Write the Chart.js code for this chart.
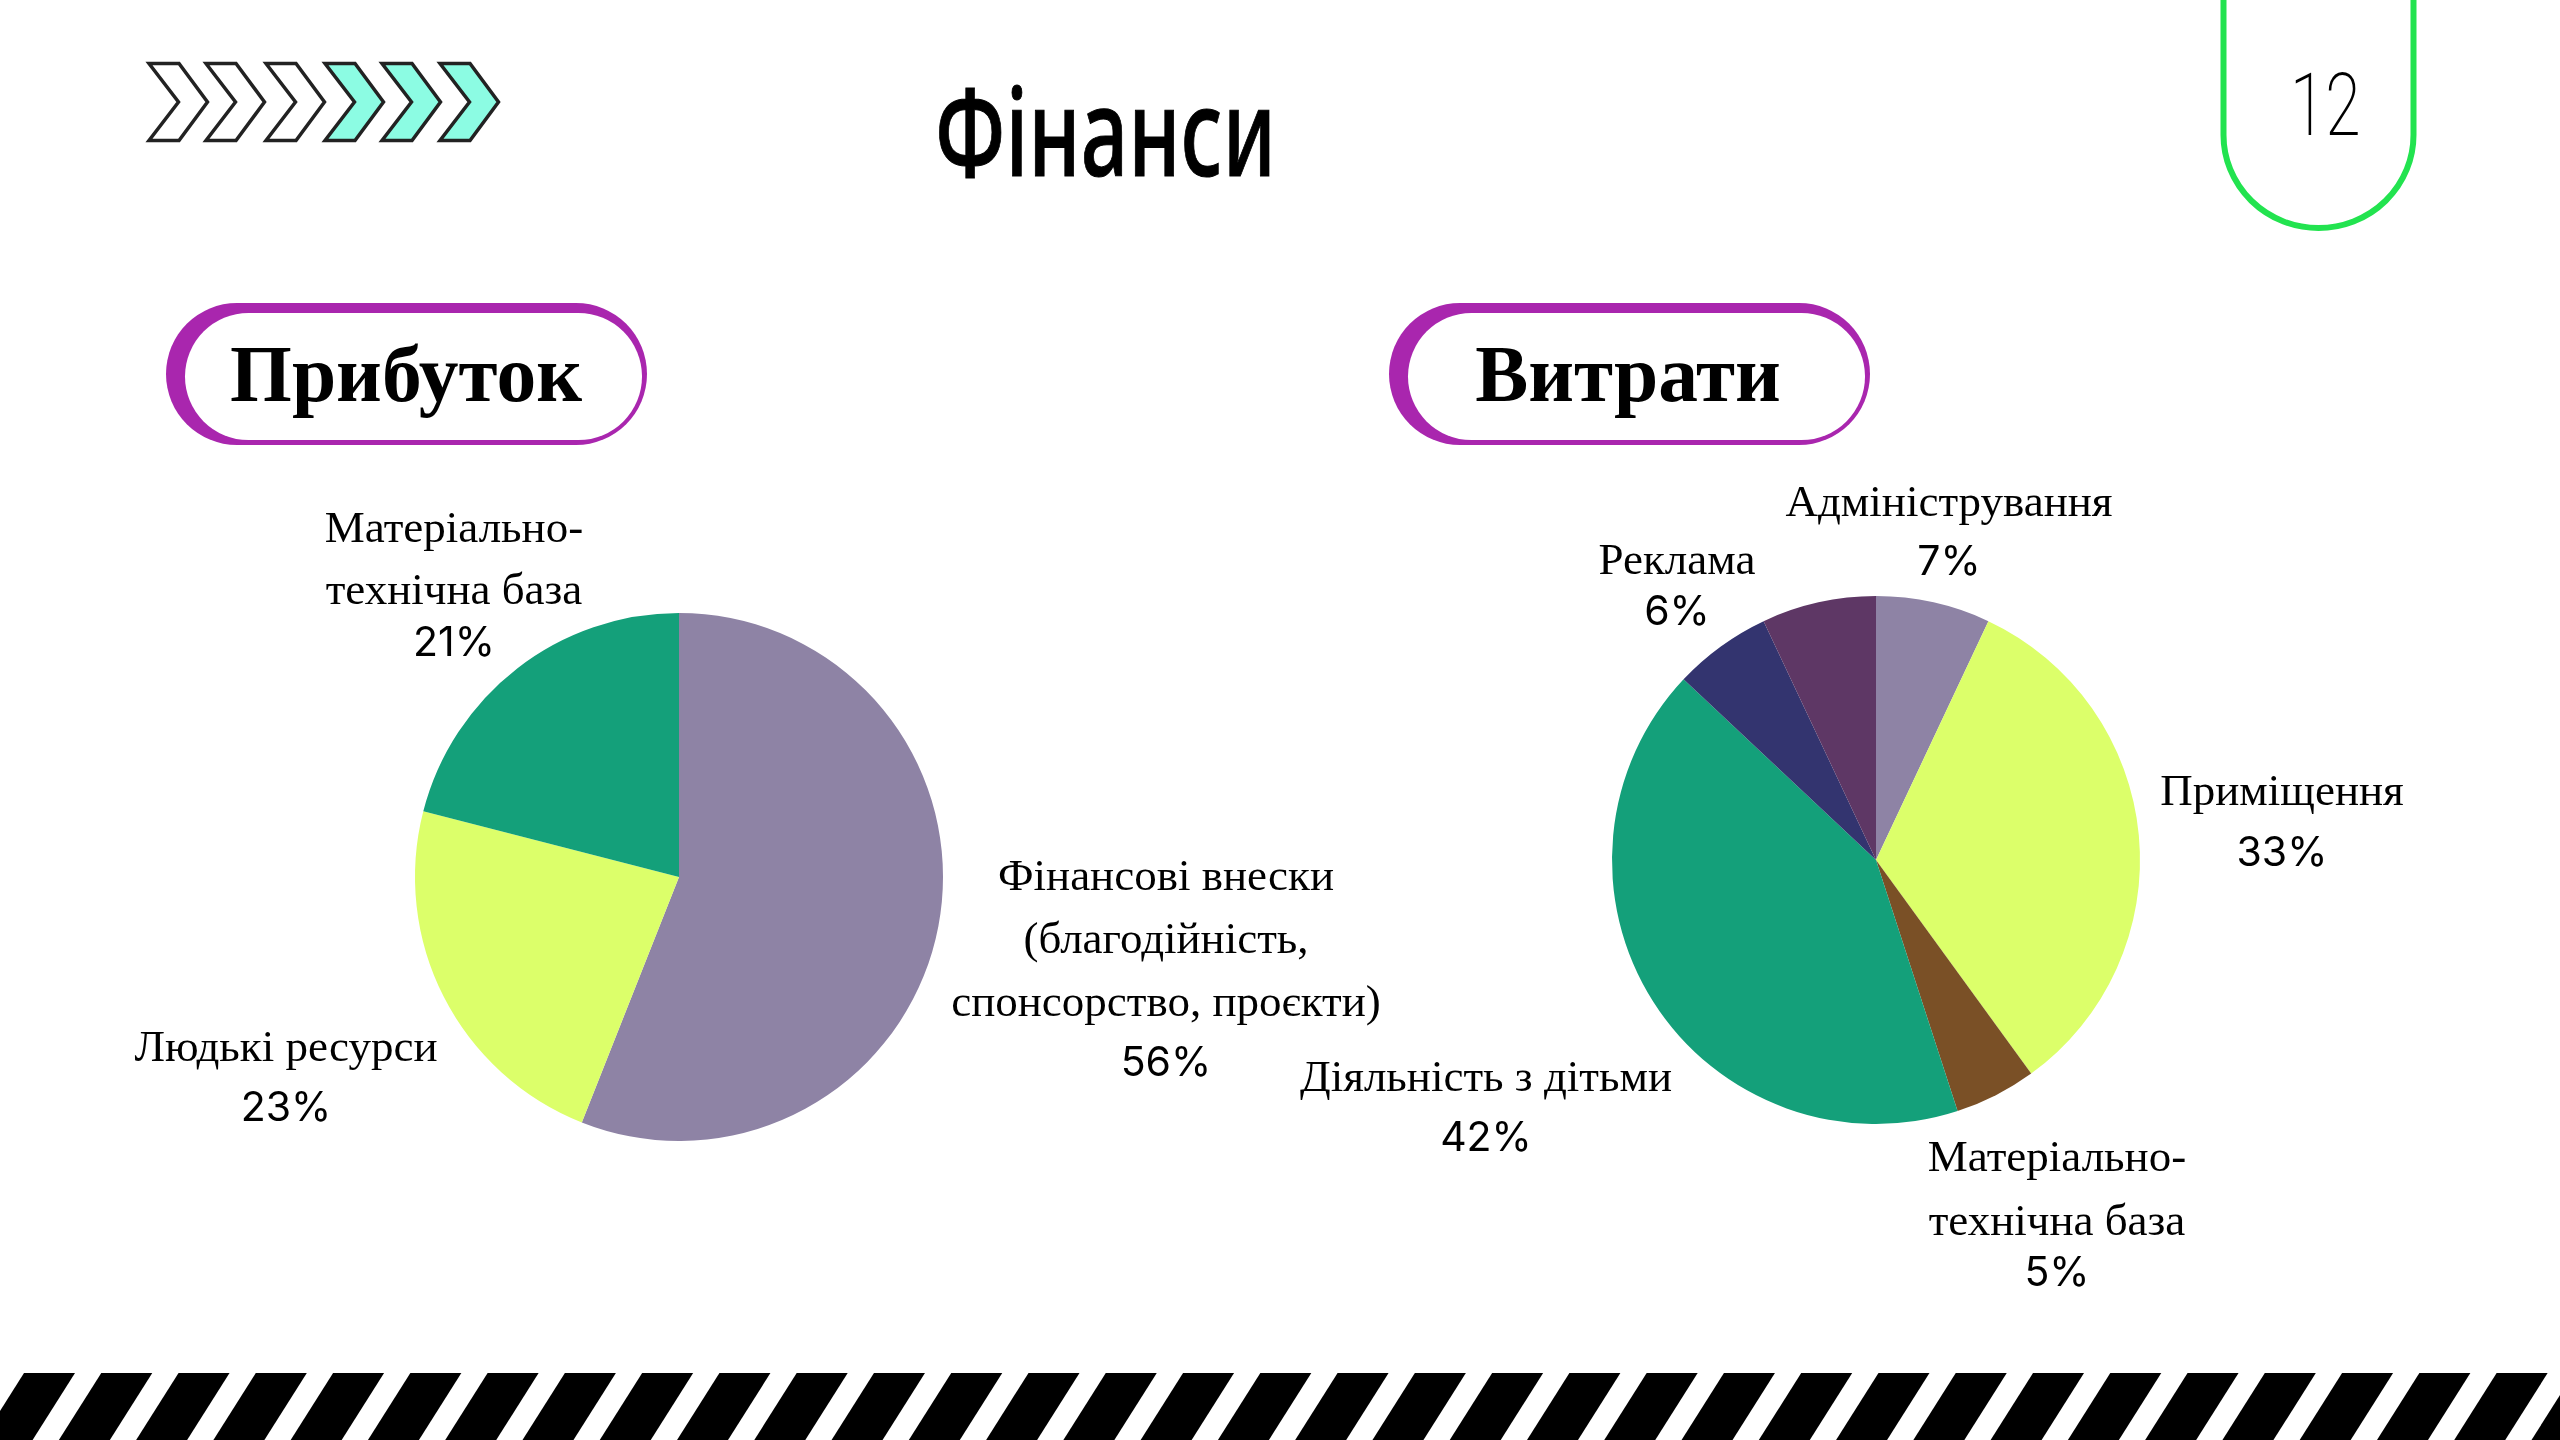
<!DOCTYPE html>
<html lang="uk">
<head>
<meta charset="utf-8">
<title>Фінанси</title>
<script src="https://cdn.jsdelivr.net/npm/chart.js@4"></script>
<style>
html,body{margin:0;padding:0;background:#fff;width:2560px;height:1440px;overflow:hidden}
canvas{position:absolute;display:block}
svg{position:absolute;left:0;top:0}
.t{position:absolute;white-space:nowrap;color:#000;line-height:1;transform-origin:0 0}
#title{left:935px;top:46px;font:500 122px "Noto Sans",sans-serif;transform:scaleX(.686);-webkit-text-stroke:1px #000}
#page{left:2290px;top:53px;font:200 88px Roboto,sans-serif;transform:scaleX(.73)}
.h{font:bold 79.5px "Liberation Serif",serif;top:329px}
#h1{left:406px;transform:translateX(-50%)}
#h2{left:1628px;transform:translateX(-50%)}
</style>
</head>
<body>
<svg id="deco" width="2560" height="1440" xmlns="http://www.w3.org/2000/svg"></svg>
<div class="t" id="title">Фінанси</div>
<div class="t" id="page">12</div>
<div class="t h" id="h1">Прибуток</div>
<div class="t h" id="h2">Витрати</div>
<canvas id="income" width="1500" height="1040" style="left:0;top:300px"></canvas>
<canvas id="costs" width="1560" height="1040" style="left:1000px;top:300px"></canvas>
<script>
// ---- data ----
const incomeCategories = [
  ["Фінансові внески", "(благодійність,", "спонсорство, проєкти)"],
  ["Людькі ресурси"],
  ["Матеріально-", "технічна база"]
];
const incomeValues = [56, 23, 21];
const incomeColors = ["#8E83A5", "#DCFF6A", "#14A07A"];

const costCategories = [
  ["Адміністрування"],
  ["Приміщення"],
  ["Матеріально-", "технічна база"],
  ["Діяльність з дітьми"],
  ["Реклама"],
  [""]
];
const costValues = [7, 33, 5, 42, 6, 7];
const costColors = ["#8E83A5", "#DCFF6A", "#7A5026", "#14A07A", "#33346F", "#5E3765"];

// ---- label placement: offset of the text from the pie centre, baselines of each line ----
const incomeLabelPlaces = [
  {dx: 487, ys: [13, 76, 139, 199]},
  {dx: -393, ys: [184, 244]},
  {dx: -225, ys: [-335, -273, -221]}
];
const costLabelPlaces = [
  {dx: 73, ys: [-344, -285]},
  {dx: 406, ys: [-55, 6]},
  {dx: 181, ys: [311, 375, 426]},
  {dx: -390, ys: [231, 291]},
  {dx: -199, ys: [-286, -235]},
  {dx: 0, ys: []}
];

const serif = '45px "Liberation Serif", serif';
const sans = '41px Inter, sans-serif';

function sliceLabels(places) {
  return {
    id: 'sliceLabels',
    afterDatasetsDraw(chart) {
      const ctx = chart.ctx;
      const arcs = chart.getDatasetMeta(0).data;
      const values = chart.data.datasets[0].data;
      ctx.save();
      ctx.fillStyle = '#000';
      ctx.textAlign = 'center';
      ctx.textBaseline = 'alphabetic';
      arcs.forEach((arc, i) => {
        const place = places[i];
        if (!place.ys.length) return;
        const lines = chart.data.labels[i];
        const x = arc.x + place.dx;
        ctx.font = serif;
        lines.forEach((line, k) => ctx.fillText(line, x, arc.y + place.ys[k]));
        ctx.font = sans;
        ctx.fillText(values[i] + '%', x, arc.y + place.ys[lines.length]);
      });
      ctx.restore();
    }
  };
}

function pie(id, labels, data, colors, places, padding) {
  return new Chart(document.getElementById(id), {
    type: 'pie',
    data: {labels, datasets: [{data, backgroundColor: colors, borderWidth: 0}]},
    options: {
      responsive: false,
      animation: false,
      layout: {padding},
      plugins: {legend: {display: false}, tooltip: {enabled: false}}
    },
    plugins: [sliceLabels(places)]
  });
}
pie('income', incomeCategories, incomeValues, incomeColors, incomeLabelPlaces,
    {left: 415, right: 557, top: 313, bottom: 199});
pie('costs', costCategories, costValues, costColors, costLabelPlaces,
    {left: 612, right: 420, top: 296, bottom: 216});

// ---- slide decoration ----
const NS = 'http://www.w3.org/2000/svg';
const decoLayer = document.getElementById('deco');
function add(tag, attrs) {
  const e = document.createElementNS(NS, tag);
  for (const k in attrs) e.setAttribute(k, attrs[k]);
  decoLayer.appendChild(e);
}
[146, 203, 263, 322, 379, 437].forEach((x, i) => {
  add('path', {
    d: `M${x + 3} 63.5h30l28.5 38.5l-28.5 38.5h-30l29.5 -38.5z`,
    fill: i < 3 ? '#fff' : '#8CFCE3', stroke: '#222', 'stroke-width': 3.5, 'stroke-linejoin': 'miter'
  });
});
add('path', {d: 'M2223.5 -5V135a95 93 0 0 0 190 0V-5', fill: 'none', stroke: '#22E34F', 'stroke-width': 6});
[0, 1223].forEach(dx => {
  add('rect', {x: 166 + dx, y: 303, width: 481, height: 142, rx: 71, fill: '#A926AE'});
  add('rect', {x: 185 + dx, y: 313, width: 457, height: 127, rx: 63.5, fill: '#fff'});
});
for (let k = -1; k < 34; k++) {
  const x = 24 + k * 77.27;
  add('path', {d: `M${x} 1373h51l-42.4 67h-51z`, fill: '#000'});
}
</script>
</body>
</html>
